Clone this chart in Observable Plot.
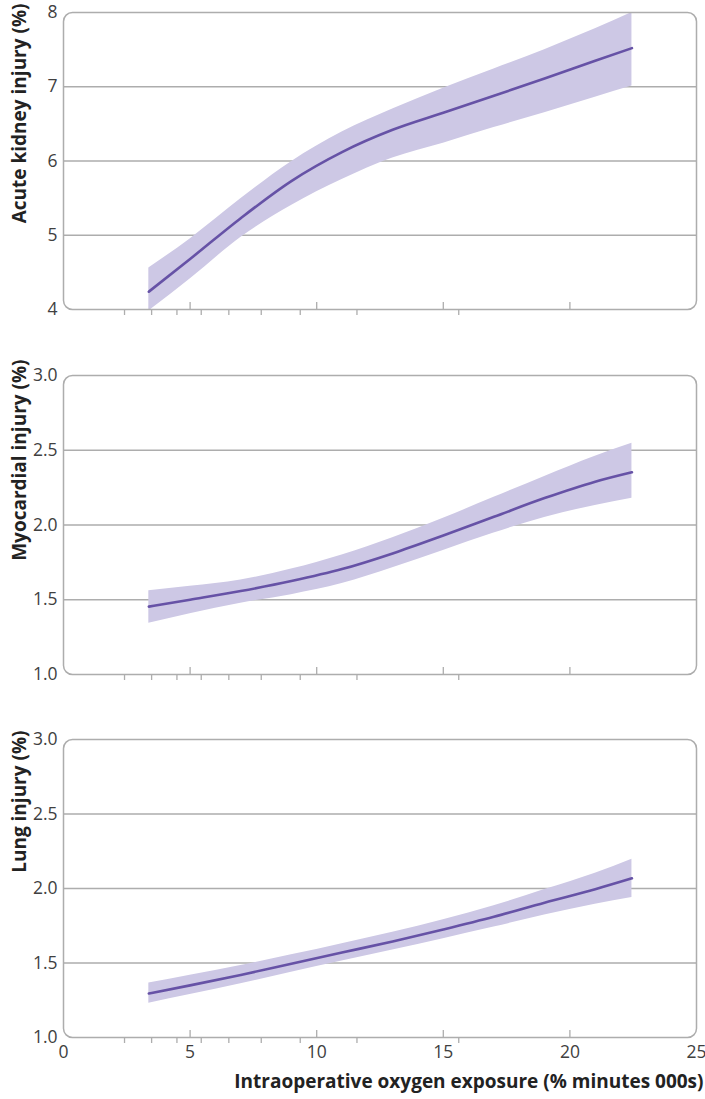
<!DOCTYPE html>
<html><head><meta charset="utf-8">
<script src="https://cdn.jsdelivr.net/npm/d3@7"></script>
<script src="https://cdn.jsdelivr.net/npm/@observablehq/plot@0.6"></script>
<style>
body{margin:0;background:#fff;}
#chart svg{display:block;}
</style></head><body><div id="chart"></div>
<script>
// Oxygen exposure grid (% minutes 000s)
const xGrid = [3.37, 5, 7, 9, 11, 13, 15, 17, 19, 21, 22.45];

// Acute kidney injury (%)
const akiMean  = [4.24, 4.68, 5.23, 5.73, 6.12, 6.42, 6.65, 6.88, 7.11, 7.35, 7.52];
const akiLower = [3.98, 4.41, 4.97, 5.40, 5.75, 6.04, 6.24, 6.45, 6.65, 6.86, 7.01];
const akiUpper = [4.56, 4.95, 5.49, 5.99, 6.39, 6.70, 6.98, 7.24, 7.50, 7.78, 8.00];

// Myocardial injury (%)
const myoMean  = [1.454, 1.50, 1.558, 1.625, 1.705, 1.81, 1.93, 2.055, 2.18, 2.29, 2.353];
const myoLower = [1.342, 1.406, 1.477, 1.534, 1.608, 1.714, 1.83, 1.946, 2.051, 2.131, 2.179];
const myoUpper = [1.561, 1.59, 1.632, 1.705, 1.80, 1.915, 2.045, 2.185, 2.325, 2.46, 2.547];

// Lung injury (%)
const lungMean  = [1.295, 1.35, 1.42, 1.495, 1.57, 1.645, 1.725, 1.81, 1.905, 1.995, 2.068];
const lungLower = [1.23, 1.288, 1.361, 1.438, 1.513, 1.587, 1.663, 1.741, 1.822, 1.895, 1.94];
const lungUpper = [1.365, 1.417, 1.483, 1.555, 1.63, 1.707, 1.791, 1.884, 1.993, 2.103, 2.197];

// Decile positions of exposure (rug ticks)
const deciles = [2.41, 3.48, 4.48, 5.44, 6.53, 7.81, 9.35, 11.59, 15.61];
const xTicks = [0, 5, 10, 15, 20, 25];
const majorTicks = [5, 10, 15, 20];
const akiTicks = [4, 5, 6, 7, 8];
const injTicks = [1.0, 1.5, 2.0, 2.5, 3.0];
const titles = ["Acute kidney injury (%)", "Myocardial injury (%)", "Lung injury (%)"];
const xTitle = "Intraoperative oxygen exposure (% minutes 000s)";

const FONT = "'Open Sans', sans-serif";
const GREY = "#adadad";

function panel({title, mean, lo, hi, yTicks, fmt, height, marginTop, marginBottom, titleDy, showX}) {
  const data = xGrid.map((x, i) => ({x, mean: mean[i], lo: lo[i], hi: hi[i]}));
  const y0 = yTicks[0];
  const marks = [
    Plot.ruleY(yTicks.slice(1, -1), {stroke: GREY, strokeWidth: 1.3}),
    Plot.areaY(data, {x: "x", y1: "lo", y2: "hi", fill: "#cdc8e5", curve: "monotone-x", clip: true}),
    Plot.lineY(data, {x: "x", y: "mean", stroke: "#6652a6", strokeWidth: 2.6, curve: "monotone-x"}),
    Plot.frame({stroke: GREY, strokeWidth: 1.5, rx: 9}),
    Plot.ruleX(majorTicks, {x: d => d, y1: y0, y2: y0, insetTop: -7, stroke: GREY, strokeWidth: 1.3}),
    Plot.ruleX(deciles, {x: d => d, y1: y0, y2: y0, insetBottom: -6, stroke: GREY, strokeWidth: 1.3}),
    Plot.axisY({ticks: yTicks, tickSize: 0, tickPadding: 6, label: null, fontSize: 17.5, tickFormat: fmt, fill: "#404040"}),
    Plot.text([title], {frameAnchor: "top-left", text: d => d, rotate: -90, textAnchor: "end",
      dx: -51, dy: titleDy, fontWeight: "bold", fontSize: 19, fill: "#222"})
  ];
  if (showX) {
    marks.push(Plot.axisX({ticks: xTicks, tickSize: 0, tickPadding: 8, label: null, fontSize: 17.5, fill: "#404040"}));
    marks.push(Plot.text([xTitle], {frameAnchor: "bottom-right", text: d => d, textAnchor: "end",
      dx: 7, dy: 50, fontWeight: "bold", fontSize: 19, fill: "#222"}));
  }
  return Plot.plot({
    width: 705, height, marginTop, marginBottom, marginLeft: 63, marginRight: 9,
    style: {fontFamily: FONT, background: "#fff", overflow: "visible"},
    x: {domain: [0, 25], axis: null},
    y: {domain: [yTicks[0], yTicks[yTicks.length - 1]], axis: null},
    marks
  });
}

const chart = document.getElementById("chart");
chart.append(panel({title: titles[0], mean: akiMean, lo: akiLower, hi: akiUpper, yTicks: akiTicks,
  fmt: d3.format("d"), height: 340, marginTop: 12, marginBottom: 31, titleDy: -9, showX: false}));
chart.append(panel({title: titles[1], mean: myoMean, lo: myoLower, hi: myoUpper, yTicks: injTicks,
  fmt: d3.format(".1f"), height: 365, marginTop: 35, marginBottom: 31, titleDy: -16, showX: false}));
chart.append(panel({title: titles[2], mean: lungMean, lo: lungLower, hi: lungUpper, yTicks: injTicks,
  fmt: d3.format(".1f"), height: 394, marginTop: 34, marginBottom: 62, titleDy: -9, showX: true}));
</script></body></html>
